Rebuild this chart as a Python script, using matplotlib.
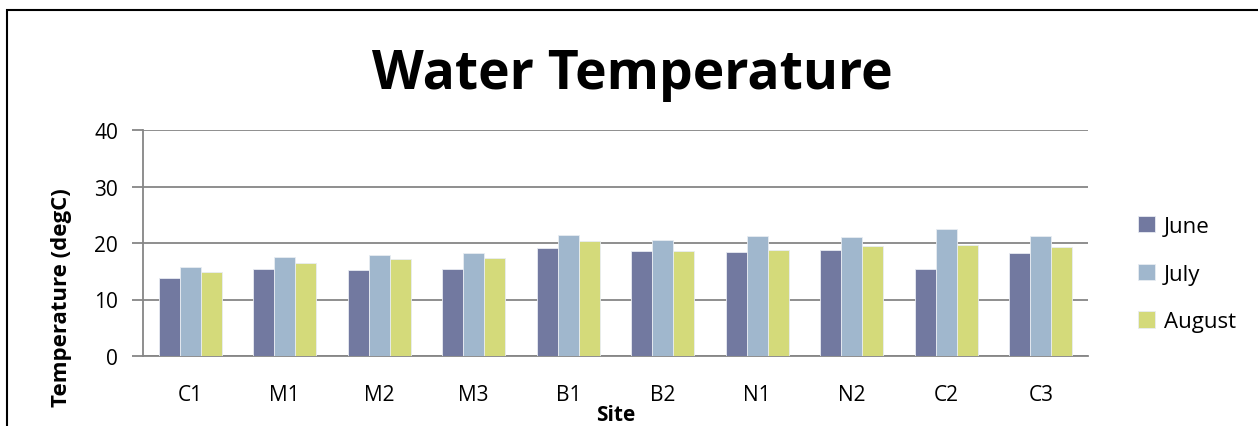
import matplotlib
matplotlib.use("Agg")
import matplotlib.pyplot as plt
from matplotlib.patches import Rectangle
import numpy as np

plt.rcParams['font.family'] = ['Open Sans', 'DejaVu Sans']

sites = ["C1", "M1", "M2", "M3", "B1", "B2", "N1", "N2", "C2", "C3"]
june = [13.8, 15.4, 15.3, 15.4, 19.1, 18.5, 18.4, 18.7, 15.4, 18.3]
july = [15.8, 17.5, 17.9, 18.3, 21.5, 20.6, 21.3, 21.1, 22.4, 21.2]
august = [14.8, 16.4, 17.1, 17.3, 20.3, 18.6, 18.8, 19.4, 19.6, 19.3]

series = [("June", june, "#7279a0"), ("July", july, "#a0b7cd"), ("August", august, "#d4da7a")]

W, H = 1258, 427
fig = plt.figure(figsize=(W / 100, H / 100), dpi=100)
# axes box in pixels: x 143..1088, y 131..357
ax = fig.add_axes([143 / W, 1 - 357 / H, (1088 - 143) / W, (357 - 131) / H])

x = np.arange(len(sites))
bw = 0.222
for i, (name, vals, col) in enumerate(series):
    ax.bar(x + (i - 1) * bw, vals, width=bw, color=col, edgecolor="#e8ecf2",
           linewidth=0.6, label=name, zorder=3)

ax.set_xlim(-0.5, len(sites) - 0.5)
ax.set_ylim(0, 40)
ax.set_yticks([0, 10, 20, 30, 40])
ax.set_xticks(x)
ax.set_xticklabels(sites)
ax.yaxis.grid(True, color="#868686", linewidth=1.3, zorder=0)
for s in ["top", "right"]:
    ax.spines[s].set_visible(False)
for s in ["left", "bottom"]:
    ax.spines[s].set_color("#868686")
    ax.spines[s].set_linewidth(1.3)
ax.tick_params(axis="y", length=8, width=1.3, color="#868686", labelsize=15, pad=10)
ax.tick_params(axis="x", length=0, labelsize=15, pad=20)

fig.text(632 / W, 1 - 75 / H, "Water Temperature", fontsize=38.5, fontweight="bold",
         ha="center", va="center")
fig.text(61 / W, 1 - 298 / H, "Temperature (degC)", fontsize=16, fontweight="bold",
         rotation=90, ha="center", va="center")
fig.text(616 / W, 1 - 416 / H, "Site", fontsize=15, fontweight="bold",
         ha="center", va="center")

ax.legend(loc="center left", bbox_to_anchor=(1118 / W, 1 - 275 / H),
          bbox_transform=fig.transFigure, frameon=False, fontsize=16,
          handlelength=0.75, handleheight=0.75, labelspacing=1.2, handletextpad=0.4)

fig.patches.append(Rectangle((7 / W, -0.1), 1.2, 1 - 11 / H + 0.1, transform=fig.transFigure,
                             fill=False, edgecolor="black", linewidth=1.5))

fig.savefig("out.png", dpi=100)
